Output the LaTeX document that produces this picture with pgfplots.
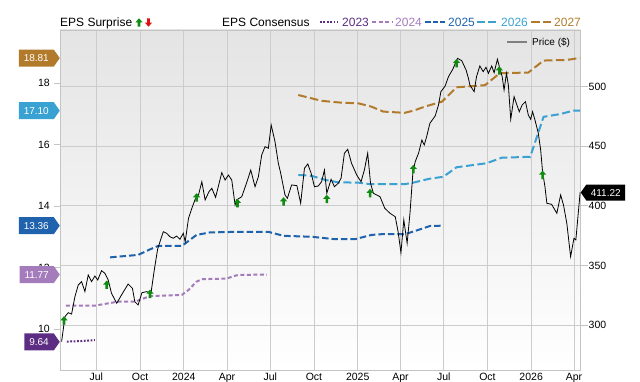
\documentclass[border=0pt]{standalone}
\usepackage{pgfplots}
\pgfplotsset{compat=1.18}
\usepackage{fontspec}
\setmainfont{Liberation Sans}
\usetikzlibrary{shapes.symbols}
\definecolor{c2023}{HTML}{5C2D82}
\definecolor{c2024}{HTML}{A47CBC}
\definecolor{c2025}{HTML}{1F62AD}
\definecolor{c2026}{HTML}{3AA1D3}
\definecolor{c2027}{HTML}{B27B2C}
\definecolor{gridc}{HTML}{CCCCCC}
\definecolor{framec}{HTML}{C4C4C4}
\definecolor{bgtop}{HTML}{E4E4E4}
\definecolor{bgmid}{HTML}{F6F6F6}
\definecolor{epsgreen}{HTML}{118A11}
\definecolor{epsred}{HTML}{E01010}
\pgfdeclareplotmark{epsup}{%
  \pgfpathmoveto{\pgfqpoint{0pt}{4.5pt}}%
  \pgfpathlineto{\pgfqpoint{3.6pt}{0.4pt}}%
  \pgfpathlineto{\pgfqpoint{1.3pt}{0.4pt}}%
  \pgfpathlineto{\pgfqpoint{1.3pt}{-4pt}}%
  \pgfpathlineto{\pgfqpoint{-1.3pt}{-4pt}}%
  \pgfpathlineto{\pgfqpoint{-1.3pt}{0.4pt}}%
  \pgfpathlineto{\pgfqpoint{-3.6pt}{0.4pt}}%
  \pgfpathclose
  \pgfusepathqfill}
\newcommand{\tickfont}{\fontsize{10.5}{12}\selectfont}
\begin{document}
\begin{tikzpicture}
\useasboundingbox (0,0) rectangle (640pt,382pt);
\pgfplotsset{base/.style={at={(60pt,12pt)}, anchor=south west, scale only axis,
  width=520.5pt, height=340pt, xmin=104.6, xmax=1199.8,
  /pgf/number format/assume math mode=true,
  tick label style={font=\tickfont, text=black}}}
% ---- Axis A: background, grid, price scale
\begin{axis}[base, ymin=262.2, ymax=547.7,
  ytick={300,350,400,450,500}, ytick pos=right, yticklabel pos=right,
  xtick={181,273,365,456,547,639,731,821,912,1004,1096,1186},
  xticklabels={Jul,Oct,2024,Apr,Jul,Oct,2025,Apr,Jul,Oct,2026,Apr},
  xtick pos=bottom,
  grid=major, grid style={color=gridc, line width=0.8pt},
  axis line style={color=framec, line width=0.8pt},
  ytick style={color=framec, line width=0.8pt},
  xtick style={draw=none},
  tick align=outside, major tick length=7pt,
  axis background/.style={shade, top color=bgtop, middle color=bgmid, bottom color=white},
  yticklabel style={inner sep=0pt, xshift=1pt},
  xticklabel style={inner sep=0pt, yshift=4.3pt},
]
\addplot[draw=none] coordinates {(200,400)};
\end{axis}
% ---- Axis B: EPS consensus lines, EPS scale
\begin{axis}[base, ymin=8.667, ymax=19.724,
  axis y line*=left, axis x line=none,
  ytick={10,12,14,16,18},
  axis line style={color=framec, line width=0.8pt},
  ytick style={color=framec, line width=0.8pt},
  tick align=outside, major tick length=6pt,
  yticklabel style={inner sep=0pt, xshift=-4pt},
]
\addplot[c2023, line width=2pt, dash pattern=on 1.8pt off 1.6pt] coordinates {
(119,9.59) (150,9.61) (178,9.64)};
\addplot[c2024, line width=2pt, dash pattern=on 4pt off 2.5pt] coordinates {
(117,10.76) (178,10.76) (227,10.89) (262,10.89) (294,11.07) (361,11.11)
(375,11.27) (392,11.54) (403,11.62) (455,11.64) (470,11.72) (480,11.76) (540,11.77)};
\addplot[c2025, line width=2pt, dash pattern=on 6.5pt off 3pt] coordinates {
(210,12.33) (269,12.41) (294,12.59) (311,12.70) (361,12.70) (392,13.06) (420,13.14)
(476,13.16) (543,13.16) (575,13.03) (634,13.00) (683,12.92) (725,12.92) (760,13.06)
(788,13.09) (830,13.08) (862,13.24) (883,13.35) (908,13.36)};
\addplot[c2026, line width=2pt, dash pattern=on 8pt off 3.5pt] coordinates {
(606,15.01) (634,14.98) (662,14.85) (690,14.77) (732,14.76) (757,14.71) (830,14.71)
(848,14.76) (883,14.89) (911,14.95) (939,15.26) (1002,15.39) (1034,15.57) (1094,15.60)
(1122,16.90) (1157,16.99) (1185,17.10) (1199,17.10)};
\addplot[c2027, line width=2pt, dash pattern=on 8.5pt off 3.5pt] coordinates {
(606,17.61) (655,17.42) (697,17.36) (732,17.34) (760,17.23) (785,17.07) (830,17.03)
(848,17.10) (876,17.25) (908,17.39) (939,17.86) (999,17.93) (1030,18.32) (1090,18.34)
(1122,18.73) (1171,18.75) (1188,18.79) (1199,18.81)};
\end{axis}
% ---- Axis C: price line and surprises
\begin{axis}[base, ymin=262.2, ymax=547.7, hide axis, clip=false]
\addplot[black, line width=0.8pt] coordinates {
(108,286.0) (115,307.0) (122,310.3) (129,309.2) (136,323.8) (143,333.6) (150,336.4)
(157,328.0) (164,342.0) (171,336.4) (178,341.1) (184,337.8) (192,345.6) (199,343.4)
(206,337.8) (213,326.6) (224,318.2) (234,325.2) (248,334.4) (257,330.8) (262,319.6)
(269,316.8) (277,327.1) (287,328.0) (296,326.6) (303,346.2) (310,363.6) (315,369.9)
(322,378.3) (329,377.0) (336,374.1) (343,372.8) (350,374.7) (357,372.0) (364,377.0)
(368,369.9) (375,389.6) (382,398.0) (389,405.5) (396,409.2) (403,420.3) (410,405.0)
(418,411.9) (424,414.8) (432,407.2) (445,427.9) (452,421.7) (459,425.9) (466,421.7)
(473,400.8) (476,405.0) (487,407.7) (497,419.0) (506,430.1) (515,416.1) (522,424.5)
(529,442.7) (536,449.7) (543,448.4) (549,467.9) (557,453.9) (564,435.8) (569,427.4)
(578,409.2) (583,406.4) (592,417.6) (603,417.0) (611,402.2) (619,431.6) (626,435.2)
(633,427.4) (640,416.1) (648,416.7) (655,420.3) (661,430.1) (666,410.6) (675,422.3)
(682,416.1) (690,419.0) (696,423.2) (703,444.2) (710,447.5) (718,435.8) (729,425.9)
(738,420.3) (745,430.1) (752,444.2) (758,419.0) (764,410.6) (778,407.7) (788,398.0)
(799,393.8) (810,390.9) (816,378.3) (822,360.7) (828,388.2) (835,368.6) (841,393.8)
(847,427.4) (852,437.1) (859,444.2) (866,455.3) (871,451.1) (876,458.1) (883,469.4)
(894,475.5) (901,484.7) (906,495.9) (915,500.7) (922,508.5) (931,514.7) (941,523.9)
(950,521.9) (959,514.1) (964,507.1) (967,501.5) (976,495.9) (981,508.5) (988,517.5)
(995,512.7) (1001,516.4) (1006,511.3) (1013,517.5) (1018,511.8) (1025,523.1) (1030,515.5)
(1035,508.5) (1039,497.3) (1044,511.3) (1048,501.5) (1053,472.7) (1060,491.7) (1066,484.7)
(1071,479.1) (1077,484.7) (1084,487.5) (1090,476.3) (1095,472.7) (1099,479.1) (1104,472.1)
(1111,461.0) (1116,446.9) (1120,428.7) (1125,416.1) (1129,402.2) (1139,401.3) (1150,393.8)
(1158,409.2) (1164,400.8) (1171,385.4) (1179,357.4) (1186,372.8) (1190,371.4) (1199,411.22)};
\addplot[only marks, mark=epsup, color=epsgreen] coordinates {
(113,303.6) (203,333.6) (294,326.0) (392,406.9) (478,402.2) (575,403.5)
(666,405.6) (757,410.6) (848,430.7) (939,519.7) (1029,513.5) (1120,425.9)};
\node[signal, signal to=west, signal pointer angle=110, fill=black, text=white,
  font=\fontsize{10}{12}\selectfont, minimum height=16pt, inner xsep=4.5pt, inner ysep=0pt,
  anchor=west] at (axis cs:1199.8,411.22) {411.22};
\end{axis}
% ---- Axis D: EPS badges
\begin{axis}[base, ymin=8.667, ymax=19.724, hide axis, clip=false]
\addplot[draw=none] coordinates {(600,15)};
\tikzset{badge/.style={signal, signal to=east, signal pointer angle=110, fill=#1, text=white,
  font=\fontsize{10}{12}\selectfont, minimum height=17pt, inner xsep=5pt, inner ysep=0pt,
  anchor=east}}
\node[badge=c2027] at (axis cs:104.6,18.81) {18.81};
\node[badge=c2026] at (axis cs:104.6,17.10) {17.10};
\node[badge=c2025] at (axis cs:104.6,13.36) {13.36};
\node[badge=c2024] at (axis cs:104.6,11.77) {11.77};
\node[badge=c2023] at (axis cs:104.6,9.58) {9.64};
\end{axis}
% ---- Legend
\begin{scope}[every node/.style={inner sep=0pt, anchor=base west, font=\fontsize{12}{14}\selectfont}]
\node at (60pt,355.3pt) {EPS Surprise};
\fill[epsgreen] (139pt,363.7pt) -- (142.6pt,359.6pt) -- (140.3pt,359.6pt) -- (140.3pt,355.3pt)
  -- (137.7pt,355.3pt) -- (137.7pt,359.6pt) -- (135.4pt,359.6pt) -- cycle;
\fill[epsred] (148.5pt,355.3pt) -- (152.1pt,359.4pt) -- (149.8pt,359.4pt) -- (149.8pt,363.7pt)
  -- (147.2pt,363.7pt) -- (147.2pt,359.4pt) -- (144.9pt,359.4pt) -- cycle;
\node at (222pt,355.3pt) {EPS Consensus};
\draw[c2023, line width=2pt, dash pattern=on 1.8pt off 1.6pt] (320pt,359.7pt) -- (338pt,359.7pt);
\node[text=c2023] at (342pt,355.3pt) {2023};
\draw[c2024, line width=2pt, dash pattern=on 4pt off 2.5pt] (372pt,359.7pt) -- (392pt,359.7pt);
\node[text=c2024] at (395pt,355.3pt) {2024};
\draw[c2025, line width=2pt, dash pattern=on 5.5pt off 2pt] (425pt,359.7pt) -- (445pt,359.7pt);
\node[text=c2025] at (448pt,355.3pt) {2025};
\draw[c2026, line width=2pt, dash pattern=on 8pt off 3pt] (477pt,359.7pt) -- (497pt,359.7pt);
\node[text=c2026] at (501pt,355.3pt) {2026};
\draw[c2027, line width=2pt, dash pattern=on 8.5pt off 3pt] (531pt,359.7pt) -- (551pt,359.7pt);
\node[text=c2027] at (554pt,355.3pt) {2027};
\draw[gray, line width=2.5pt] (507pt,340pt) -- (527pt,340pt);
\node[font=\fontsize{10}{12}\selectfont] at (532pt,336.3pt) {Price (\$)};
\end{scope}
\end{tikzpicture}
\end{document}
